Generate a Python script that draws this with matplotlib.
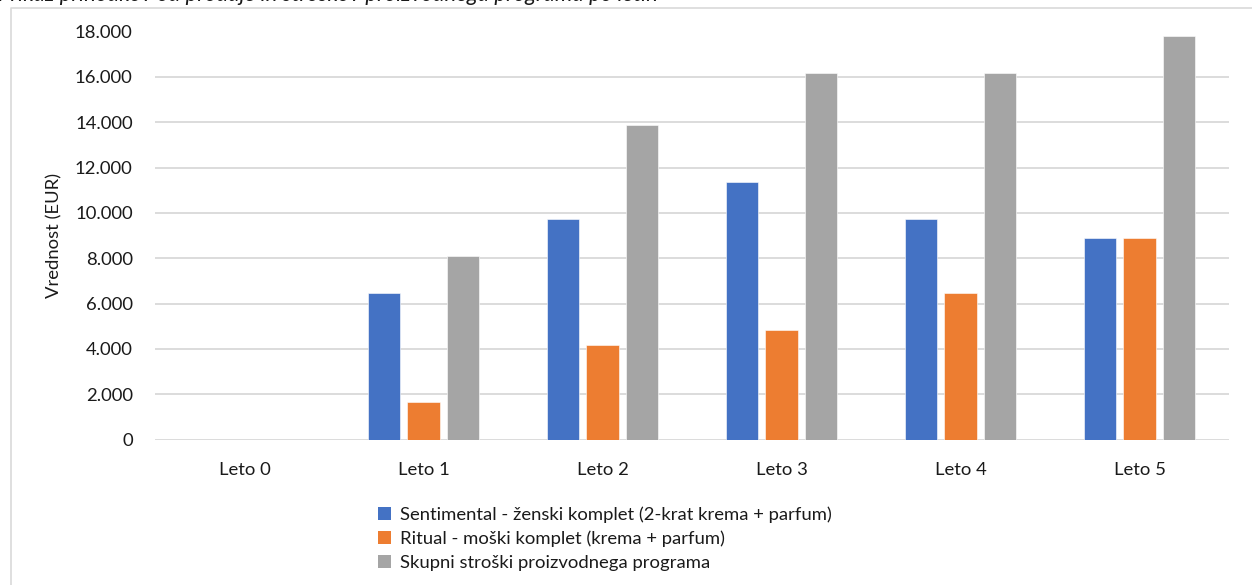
import matplotlib
import numpy as np

matplotlib.use("Agg")
import matplotlib.pyplot as plt  # noqa: E402
from matplotlib.lines import Line2D  # noqa: E402
from matplotlib.patches import Patch  # noqa: E402
from matplotlib.ticker import FuncFormatter, MultipleLocator  # noqa: E402

# --- Podatki (EUR) ---
leta = ["Leto 0", "Leto 1", "Leto 2", "Leto 3", "Leto 4", "Leto 5"]
sentimental = [0, 6480, 9740, 11350, 9740, 8900]
ritual = [0, 1660, 4190, 4820, 6470, 8900]
skupni_stroski = [0, 8100, 13880, 16180, 16180, 17800]
serije = [
    ("Sentimental - ženski komplet (2-krat krema + parfum)", sentimental, "#4472C4"),
    ("Ritual - moški komplet (krema + parfum)", ritual, "#ED7D31"),
    ("Skupni stroški proizvodnega programa", skupni_stroski, "#A5A5A5"),
]

TXT = "#1a1a1a"
GRID = "#d9d9d9"
FS = 13.3
plt.rcParams["font.family"] = ["Lato", "DejaVu Sans"]

W, H = 1252, 585
fig = plt.figure(figsize=(W / 100, H / 100), dpi=100)
fig.patch.set_facecolor("white")
ax = fig.add_axes([155 / W, 1 - 439.5 / H, (1229 - 155) / W, (439.5 - 31.5) / H])

x = np.arange(len(leta))
sirina = 0.179
razmik = 0.223
for i, (ime, vrednosti, barva) in enumerate(serije):
    ax.bar(x + (i - 1) * razmik, vrednosti, width=sirina, color=barva,
           edgecolor="white", linewidth=0.4, label=ime, zorder=3)

ax.set_xlim(-0.5, len(leta) - 0.5)
ax.set_ylim(0, 18000)
ax.yaxis.set_major_locator(MultipleLocator(2000))
ax.yaxis.set_major_formatter(FuncFormatter(lambda v, _: f"{v:,.0f}".replace(",", ".")))
ax.set_xticks(x, leta)
ax.tick_params(axis="both", length=0, labelsize=FS, labelcolor=TXT)
ax.tick_params(axis="y", pad=16)
ax.tick_params(axis="x", pad=16)
ax.grid(axis="y", color=GRID, lw=1.3, zorder=0)
for s in ax.spines.values():
    s.set_visible(False)
ax.set_ylabel("Vrednost (EUR)", fontsize=FS, color=TXT)
ax.yaxis.set_label_coords(-0.086, 0.5)

handles = [Patch(facecolor=b, edgecolor="none") for _, _, b in serije]
ax.legend(handles, [s[0] for s in serije], loc="upper left",
          bbox_to_anchor=(369 / W, 1 - 497 / H), bbox_transform=fig.transFigure,
          frameon=False, fontsize=FS, handlelength=0.7, handleheight=0.7,
          handletextpad=0.5, labelspacing=0.42, borderpad=0, labelcolor=TXT)

# okvir grafikona (levi in zgornji rob)
fig.add_artist(Line2D([11 / W, 11 / W, 1], [0, 1 - 8 / H, 1 - 8 / H],
                      transform=fig.transFigure, color=GRID, lw=1.2))
# naslov nad grafikonom; vidni so le spodnji deli črk
fig.text(-2 / W, 1 - 1 / H,
         "Prikaz prihodkov od prodaje in stroškov proizvodnega programa po letih",
         fontsize=16, style="italic", color=TXT, va="baseline", ha="left")

fig.savefig("out.png", dpi=100, facecolor="white")
